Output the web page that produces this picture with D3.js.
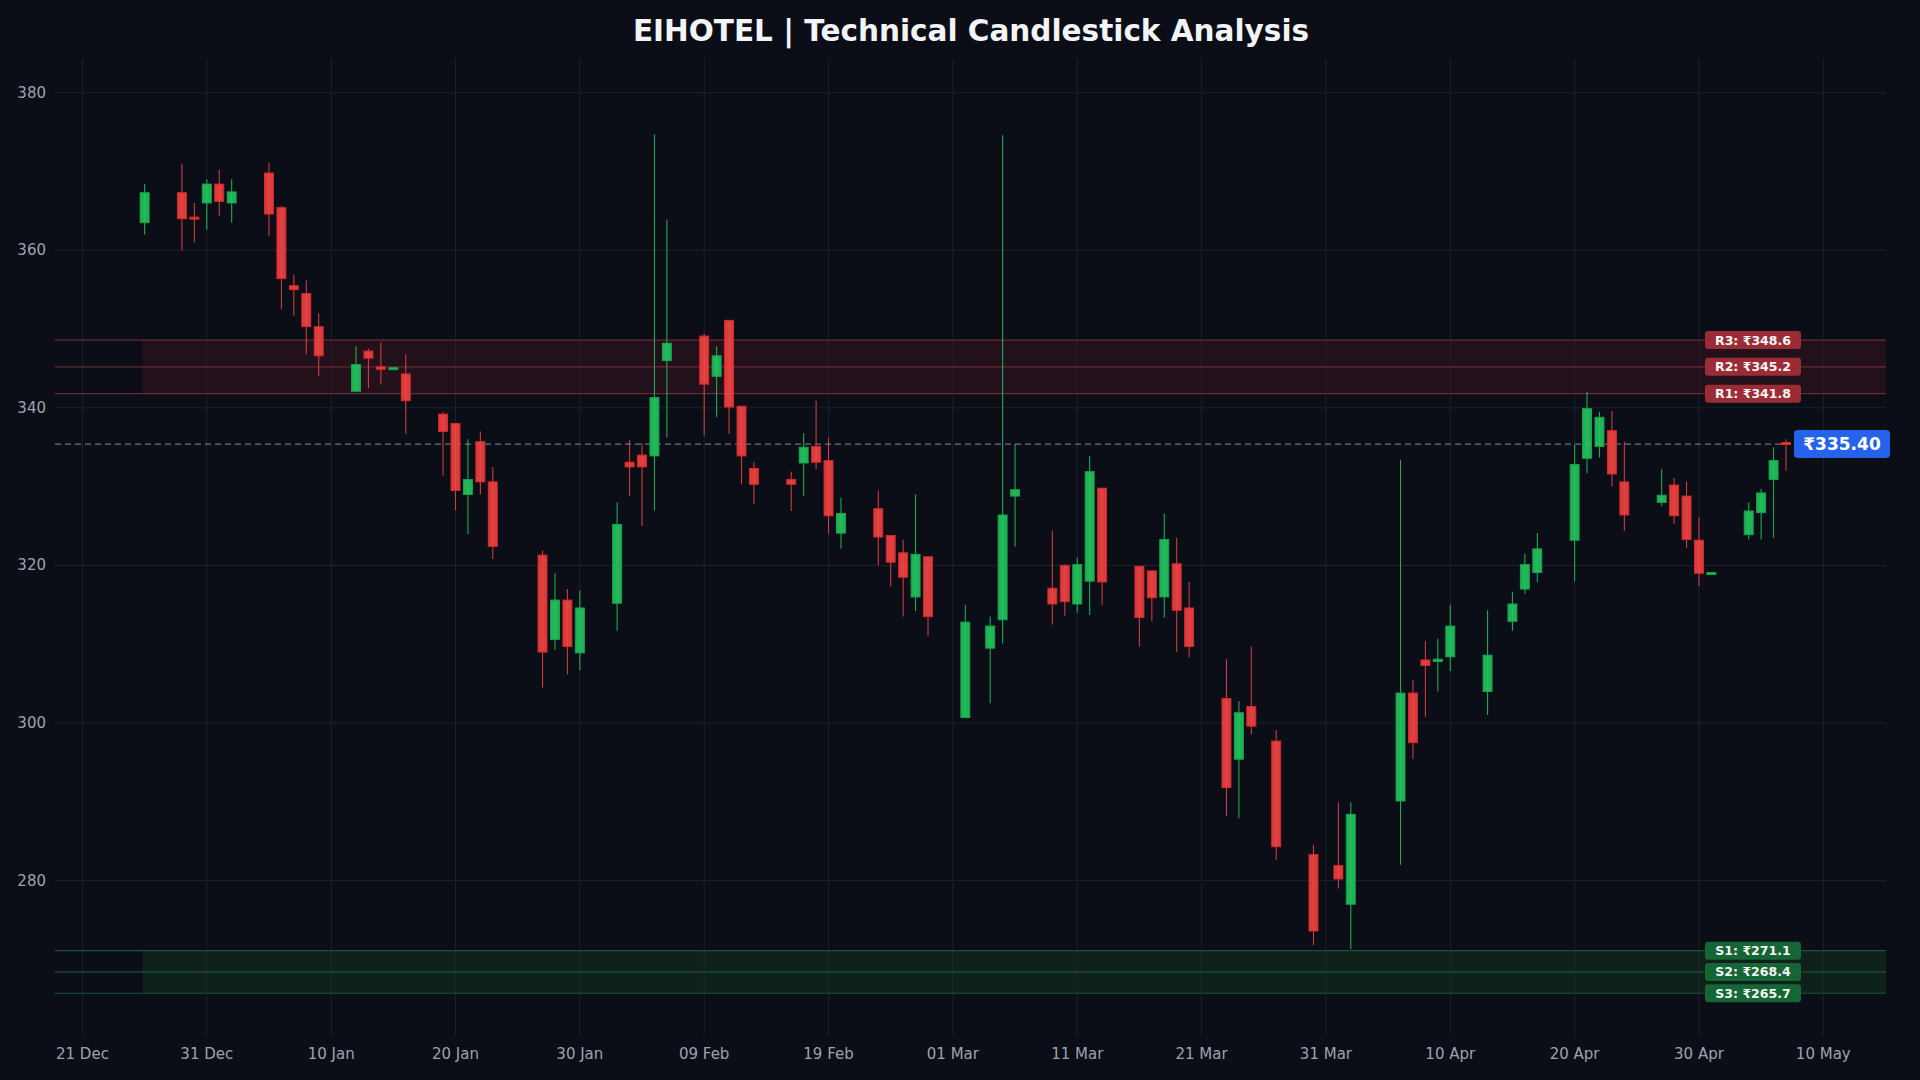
<!DOCTYPE html>
<html><head><meta charset="utf-8">
<script src="https://cdn.jsdelivr.net/npm/d3@7/dist/d3.min.js"></script>
<style>html,body{margin:0;padding:0;background:#0b0e17;}svg{display:block;font-family:"DejaVu Sans",sans-serif;}</style>
</head><body><svg id="c" width="1920" height="1080"></svg>
<script>
const dates=["2025-12-26","2025-12-29","2025-12-30","2025-12-31","2026-01-01","2026-01-02","2026-01-05","2026-01-06","2026-01-07","2026-01-08","2026-01-09","2026-01-12","2026-01-13","2026-01-14","2026-01-15","2026-01-16","2026-01-19","2026-01-20","2026-01-21","2026-01-22","2026-01-23","2026-01-27","2026-01-28","2026-01-29","2026-01-30","2026-02-02","2026-02-03","2026-02-04","2026-02-05","2026-02-06","2026-02-09","2026-02-10","2026-02-11","2026-02-12","2026-02-13","2026-02-16","2026-02-17","2026-02-18","2026-02-19","2026-02-20","2026-02-23","2026-02-24","2026-02-25","2026-02-26","2026-02-27","2026-03-02","2026-03-04","2026-03-05","2026-03-06","2026-03-09","2026-03-10","2026-03-11","2026-03-12","2026-03-13","2026-03-16","2026-03-17","2026-03-18","2026-03-19","2026-03-20","2026-03-23","2026-03-24","2026-03-25","2026-03-27","2026-03-30","2026-04-01","2026-04-02","2026-04-06","2026-04-07","2026-04-08","2026-04-09","2026-04-10","2026-04-13","2026-04-15","2026-04-16","2026-04-17","2026-04-20","2026-04-21","2026-04-22","2026-04-23","2026-04-24","2026-04-27","2026-04-28","2026-04-29","2026-04-30","2026-05-01","2026-05-04","2026-05-05","2026-05-06","2026-05-07"];
const open=[363.5,367.3,364.2,366,368.4,366,369.8,365.4,355.5,354.5,350.3,342.1,347.2,345.2,345.0,344.3,339.2,338,329,335.7,330.6,321.3,310.6,315.6,308.9,315.2,333.1,334,333.9,346,349.1,344,351.1,340.2,332.3,330.9,333,335.1,333.3,324.1,327.2,323.8,321.6,316,321.1,300.7,309.5,313.1,328.8,317.1,320,315.1,318,329.8,319.9,319.3,316,320.2,314.6,303.1,295.4,302.1,297.7,283.3,281.9,277,290.1,303.8,308,307.8,308.4,304,312.9,317,319.1,323.2,333.6,335.1,337.1,330.6,328,330.2,328.8,323.2,319,323.9,326.7,330.9,335.6];
const high=[368.4,371,366,369,370.2,369,371.1,365.6,356.9,356.2,352,347.8,347.5,348.3,345.1,346.8,339.5,338,336,337,332.5,321.9,319,317,316.8,328,335.9,335.5,374.7,363.9,349.4,347.8,351.1,340.2,333.1,331.9,336.8,340.9,336.2,328.6,329.5,323.8,323.3,329,321.1,315,313.5,374.6,335.4,324.4,320.1,321,333.9,329.8,319.9,319.3,326.6,323.5,317.9,308.1,302.8,309.7,299.1,284.5,289.9,289.9,333.4,305.5,310.4,310.7,315,314.3,316.6,321.5,324.1,335.3,342,339.5,339.6,335.7,332.2,331.1,330.6,326.1,319.1,328,329.7,335,336];
const low=[362,360,361,362.6,364.3,363.5,361.8,352.5,351.7,346.8,344,342.1,342.5,343,345.0,336.7,331.4,327,324,329,320.8,304.5,309.3,306.2,306.7,311.7,328.8,325,327,336.2,336.5,338.8,336.7,330.3,327.8,326.9,328.8,332.2,324,322.1,320,317.3,313.5,314.2,311.1,300.7,302.5,310.1,322.4,312.5,313.6,314,313.7,315,309.7,312.9,313.4,309,308.3,288.2,287.9,298.6,282.6,271.8,279,271.3,282,295.4,300.8,304,306.6,301,311.7,316.4,317.9,318,331.7,333.7,330,324.4,327.5,325.3,322.2,317.4,319,323.3,323.3,323.5,332];
const close=[367.3,364,364,368.4,366.2,367.4,364.6,356.4,355,350.3,346.6,345.5,346.3,344.9,345.1,340.9,337,329.5,330.9,330.6,322.4,309,315.6,309.7,314.6,325.2,332.5,332.5,341.3,348.2,343,346.6,340.1,333.9,330.3,330.3,335,333.1,326.3,326.6,323.6,320.4,318.5,321.4,313.5,312.8,312.3,326.4,329.6,315.1,315.4,320.1,331.9,317.9,313.4,315.9,323.3,314.3,309.7,291.8,301.3,299.6,284.3,273.6,280.2,288.4,303.8,297.5,307.3,308.1,312.3,308.6,315.1,320.1,322.1,332.8,339.9,338.8,331.6,326.4,328.9,326.3,323.3,319,319.1,326.9,329.2,333.3,335.4];
const resistance=[{k:"R3",v:348.6},{k:"R2",v:345.2},{k:"R1",v:341.8}];
const support=[{k:"S1",v:271.1},{k:"S2",v:268.4},{k:"S3",v:265.7}];
const yTicks=[280,300,320,340,360,380];
const lastPrice=335.40;
const title="EIHOTEL | Technical Candlestick Analysis";

const parse=d3.timeParse("%Y-%m-%d");
const data=dates.map((d,i)=>({d:parse(d),o:open[i],h:high[i],l:low[i],c:close[i]}));
const svg=d3.select("#c");
const L=55,R=1886,T=58,B=1035;
const x=d3.scaleTime().domain([new Date(2025,11,18,19),new Date(2026,4,15,1)]).range([L,R]);
const y=d3.scaleLinear().domain([260.4,384.4]).range([B,T]);
const dayW=x(new Date(2026,0,2))-x(new Date(2026,0,1));
const bw=dayW*0.72;
const xTicks=d3.range(0,15).map(k=>d3.timeDay.offset(new Date(2025,11,21),k*10));

svg.append("rect").attr("width",1920).attr("height",1080).attr("fill","#0b0e17");
svg.append("g").selectAll("line").data(yTicks).join("line").attr("x1",L).attr("x2",R)
 .attr("y1",d=>y(d)).attr("y2",d=>y(d)).attr("stroke","#1c212c").attr("stroke-width",1);
svg.append("g").selectAll("line").data(xTicks).join("line").attr("y1",T).attr("y2",B)
 .attr("x1",d=>x(d)).attr("x2",d=>x(d)).attr("stroke","#1c212c").attr("stroke-width",1);

const zoneX=x(data[0].d)-2;
svg.append("rect").attr("x",zoneX).attr("width",R-zoneX).attr("y",y(d3.max(resistance,d=>d.v))).attr("height",y(d3.min(resistance,d=>d.v))-y(d3.max(resistance,d=>d.v))).attr("fill","#3a1420").attr("opacity",0.5);
svg.append("rect").attr("x",zoneX).attr("width",R-zoneX).attr("y",y(d3.max(support,d=>d.v))).attr("height",y(d3.min(support,d=>d.v))-y(d3.max(support,d=>d.v))).attr("fill","#12331f").attr("opacity",0.5);
svg.append("g").selectAll("line").data(resistance).join("line").attr("x1",L).attr("x2",R).attr("y1",d=>y(d.v)).attr("y2",d=>y(d.v)).attr("stroke","#6b2a33").attr("stroke-width",1.2);
svg.append("g").selectAll("line").data(support).join("line").attr("x1",L).attr("x2",R).attr("y1",d=>y(d.v)).attr("y2",d=>y(d.v)).attr("stroke","#1d5234").attr("stroke-width",1.2);
svg.append("line").attr("x1",L).attr("x2",R).attr("y1",y(lastPrice)).attr("y2",y(lastPrice)).attr("stroke","#6b7280").attr("stroke-width",1.2).attr("stroke-dasharray","6,4");

const up="#22c55e",dn="#ef4444";
const g=svg.append("g");
g.selectAll("line").data(data).join("line").attr("x1",d=>x(d.d)).attr("x2",d=>x(d.d))
 .attr("y1",d=>y(d.h)).attr("y2",d=>y(d.l)).attr("stroke",d=>d.c>=d.o?up:dn).attr("stroke-width",1.1).attr("opacity",0.85);
g.selectAll("rect").data(data).join("rect").attr("x",d=>x(d.d)-bw/2).attr("width",bw)
 .attr("y",d=>y(Math.max(d.o,d.c))).attr("height",d=>Math.max(2,Math.abs(y(d.o)-y(d.c))))
 .attr("fill",d=>d.c>=d.o?up:dn).attr("fill-opacity",0.9).attr("stroke",d=>d.c>=d.o?"#16a34a":"#dc2626").attr("stroke-width",1);

svg.append("g").selectAll("text").data(yTicks).join("text").attr("x",L-9).attr("y",d=>y(d)+5)
 .attr("text-anchor","end").attr("fill","#9ca3af").attr("font-size",15).text(d=>d);
const fmt=d3.timeFormat("%d %b");
svg.append("g").selectAll("text").data(xTicks).join("text").attr("x",d=>x(d)).attr("y",B+24)
 .attr("text-anchor","middle").attr("fill","#9ca3af").attr("font-size",15).text(d=>fmt(d));

function tag(arr,bg){
 const gg=svg.append("g").selectAll("g").data(arr).join("g").attr("transform",d=>`translate(${1753},${y(d.v)})`);
 gg.append("rect").attr("x",-48).attr("y",-9).attr("width",96).attr("height",18).attr("rx",3).attr("fill",bg);
 gg.append("text").attr("text-anchor","middle").attr("y",4.5).attr("fill","#f3f4f6").attr("font-size",12.5).attr("font-weight","bold").text(d=>`${d.k}: ₹${d.v.toFixed(1)}`);
}
tag(resistance,"#9b2c36");
tag(support,"#166534");
const pg=svg.append("g").attr("transform",`translate(${1842},${y(lastPrice)})`);
pg.append("rect").attr("x",-48).attr("y",-14).attr("width",96).attr("height",28).attr("rx",4).attr("fill","#2563eb");
pg.append("text").attr("text-anchor","middle").attr("y",6).attr("fill","#fff").attr("font-size",17).attr("font-weight","bold").text(`₹${lastPrice.toFixed(2)}`);

svg.append("text").attr("x",971).attr("y",41).attr("text-anchor","middle").attr("fill","#f3f4f6").attr("font-size",29.5).attr("font-weight","bold").text(title);
</script></body></html>
